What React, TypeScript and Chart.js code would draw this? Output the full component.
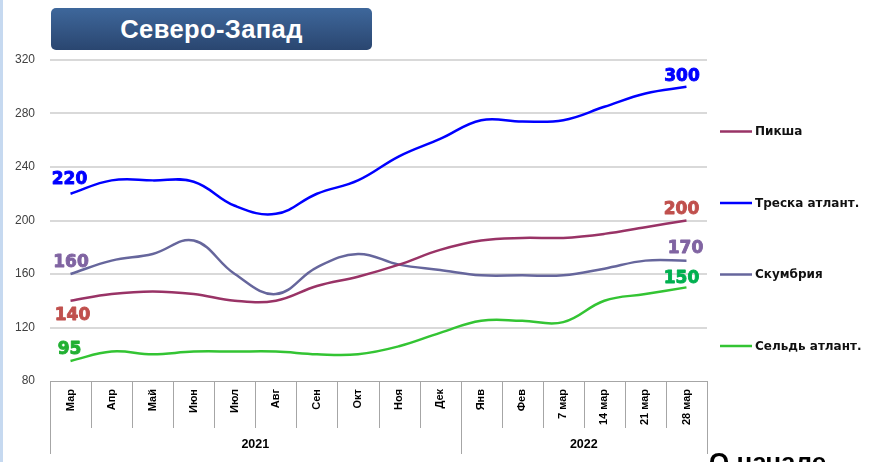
import React, { useEffect, useRef } from "react";
import { Chart, registerables } from "chart.js";

Chart.register(...registerables);

const categories = ["Мар", "Апр", "Май", "Июн", "Июл", "Авг", "Сен", "Окт", "Ноя", "Дек", "Янв", "Фев", "7 мар", "14 мар", "21 мар", "28 мар"];
const yearLabels = ["2021", "2022"];
const yearSpans = [10, 6];

const seriesNames = ["Пикша", "Треска атлант.", "Скумбрия", "Сельдь атлант."];
const pikshaValues = [140, 145, 147, 145, 140, 140, 151, 158, 167, 178, 185, 187, 187, 190, 195, 200];
const treskaValues = [220, 230, 230, 229, 211, 205, 220, 230, 248, 261, 275, 274, 275, 285, 295, 300];
const skumbriaValues = [160, 170, 175, 185, 160, 145, 165, 175, 167, 163, 159, 159, 159, 164, 170, 170];
const seldValues = [95, 102, 100, 102, 102, 102, 100, 100, 106, 116, 125, 125, 124, 140, 145, 150];

const yMin = 80;
const yMax = 320;
const yStep = 40;

const lineColors = ["#993366", "#0000ff", "#66669c", "#33c433"];
const labelColors = ["#c0504d", "#0000ff", "#8064a2", "#22b033"];
const endLabelColors = ["#c0504d", "#0000ff", "#8064a2", "#00b050"];
// label centre offsets (dx, dy) from first and last point, per series
const firstOffsets = [[2, 13], [-1, -16], [0.5, -13], [-1, -12.5]];
const lastOffsets = [[-5, -13], [-4.5, -11.5], [-1, -14], [-5, -10.5]];

const FONT = "'Liberation Sans', Arial, sans-serif";
const WIDE = "'DejaVu Sans', Verdana, sans-serif";

const separatorsPlugin = {
  id: "separators",
  afterDraw(chart: any) {
    const ctx = chart.ctx;
    const xs = chart.scales.x;
    const bottom = chart.chartArea.bottom;
    const step = xs.getPixelForValue(1) - xs.getPixelForValue(0);
    const x0 = xs.getPixelForValue(0) - step / 2;
    const groupIdx = new Set<number>();
    let acc = 0;
    groupIdx.add(0);
    yearSpans.forEach((s) => { acc += s; groupIdx.add(acc); });
    ctx.save();
    ctx.strokeStyle = "#a6a6a6";
    ctx.lineWidth = 1;
    for (let i = 0; i <= categories.length; i++) {
      const x = Math.round(x0 + i * step) + 0.5;
      const len = groupIdx.has(i) ? 73 : 47;
      ctx.beginPath();
      ctx.moveTo(x, bottom);
      ctx.lineTo(x, bottom + len);
      ctx.stroke();
    }
    ctx.fillStyle = "#000";
    ctx.font = `bold 12.5px ${FONT}`;
    ctx.textAlign = "center";
    ctx.textBaseline = "middle";
    let start = 0;
    yearLabels.forEach((lbl, gi) => {
      const a = x0 + start * step;
      const b = x0 + (start + yearSpans[gi]) * step;
      ctx.fillText(lbl, (a + b) / 2, bottom + 64);
      start += yearSpans[gi];
    });
    ctx.restore();
  },
};

const dataLabelPlugin = {
  id: "endLabels",
  afterDatasetsDraw(chart: any) {
    const ctx = chart.ctx;
    ctx.save();
    ctx.font = `bold 17px ${WIDE}`;
    ctx.textAlign = "center";
    ctx.textBaseline = "alphabetic";
    ctx.lineWidth = 0.9;
    ctx.lineJoin = "round";
    const draw = (txt: string, x: number, y: number, color: string) => {
      ctx.fillStyle = color;
      ctx.strokeStyle = color;
      ctx.fillText(txt, x, y + 6);
      ctx.strokeText(txt, x, y + 6);
    };
    chart.data.datasets.forEach((ds: any, i: number) => {
      const meta = chart.getDatasetMeta(i);
      const n = ds.data.length;
      const p0 = meta.data[0];
      const p1 = meta.data[n - 1];
      draw(String(ds.data[0]), p0.x + firstOffsets[i][0], p0.y + firstOffsets[i][1], labelColors[i]);
      draw(String(ds.data[n - 1]), p1.x + lastOffsets[i][0], p1.y + lastOffsets[i][1], endLabelColors[i]);
    });
    ctx.restore();
  },
};

const legendPlugin = {
  id: "customLegend",
  afterDraw(chart: any) {
    const ctx = chart.ctx;
    const left = chart.chartArea.right + 13;
    ctx.save();
    ctx.font = `bold 12px ${WIDE}`;
    ctx.textAlign = "left";
    ctx.textBaseline = "middle";
    seriesNames.forEach((name, i) => {
      const y = 131.5 + i * 71.5;
      ctx.strokeStyle = lineColors[i];
      ctx.lineWidth = 2.5;
      ctx.beginPath();
      ctx.moveTo(left, y);
      ctx.lineTo(left + 32, y);
      ctx.stroke();
      ctx.fillStyle = "#111";
      ctx.fillText(name, left + 35, y + 0.5);
    });
    ctx.restore();
  },
};

export default function App() {
  const canvasRef = useRef<HTMLCanvasElement | null>(null);

  useEffect(() => {
    if (!canvasRef.current) return;
    const allValues = [pikshaValues, treskaValues, skumbriaValues, seldValues];
    const chart = new Chart(canvasRef.current, {
      type: "line",
      data: {
        labels: categories,
        datasets: allValues.map((vals, i) => ({
          label: seriesNames[i],
          data: vals,
          borderColor: lineColors[i],
          backgroundColor: lineColors[i],
          borderWidth: 2.5,
          pointRadius: 0,
          tension: 0.4,
          fill: false,
        })),
      },
      options: {
        responsive: false,
        animation: false,
        layout: { padding: { left: 0, top: 60, right: 168, bottom: 0 } },
        plugins: {
          legend: { display: false },
          tooltip: { enabled: false },
          title: { display: false },
        },
        scales: {
          x: {
            offset: true,
            grid: { display: false, drawTicks: false },
            border: { display: true, color: "#a6a6a6", width: 1 },
            ticks: {
              autoSkip: false,
              minRotation: 90,
              maxRotation: 90,
              padding: 8,
              color: "#000",
              font: { family: FONT, size: 11, weight: "bold" },
            },
            afterFit(scale: any) {
              scale.height = 81;
            },
          },
          y: {
            min: yMin,
            max: yMax,
            ticks: {
              stepSize: yStep,
              padding: 15,
              color: "#404040",
              font: { family: FONT, size: 12 },
            },
            grid: {
              drawTicks: false,
              color: (c: any) => (c.tick && c.tick.value === yMin ? "#a6a6a6" : "#d9d9d9"),
              lineWidth: (c: any) => (c.tick && c.tick.value === yMin ? 1 : 2),
            },
            border: { display: false },
            afterFit(scale: any) {
              scale.width = 50;
            },
          },
        },
      },
      plugins: [separatorsPlugin, dataLabelPlugin, legendPlugin],
    });
    return () => chart.destroy();
  }, []);

  return (
    <div style={{ position: "fixed", left: 0, top: 0, width: 875, height: 462, overflow: "hidden", background: "#fff" }}>
      <div style={{ position: "absolute", left: 0, top: 0, width: 3, height: 462, background: "#c6d9f0" }} />
      <canvas ref={canvasRef} width={875} height={462} style={{ position: "absolute", left: 0, top: 0, width: 875, height: 462 }} />
      <div
        style={{
          position: "absolute",
          left: 51,
          top: 8,
          width: 321,
          height: 42,
          borderRadius: 5,
          background: "linear-gradient(#3e679b, #2a4670)",
          color: "#fff",
          fontFamily: FONT,
          fontWeight: "bold",
          fontSize: 25.5,
          letterSpacing: 0.4,
          display: "flex",
          alignItems: "center",
          justifyContent: "center",
          boxSizing: "border-box",
        }}
      >
        Северо-Запад
      </div>
      <div
        style={{
          position: "absolute",
          left: 709,
          top: 449,
          fontFamily: FONT,
          fontWeight: "bold",
          fontSize: 26,
          lineHeight: "26px",
          color: "#000",
          whiteSpace: "nowrap",
        }}
      >
        О начале
      </div>
    </div>
  );
}
